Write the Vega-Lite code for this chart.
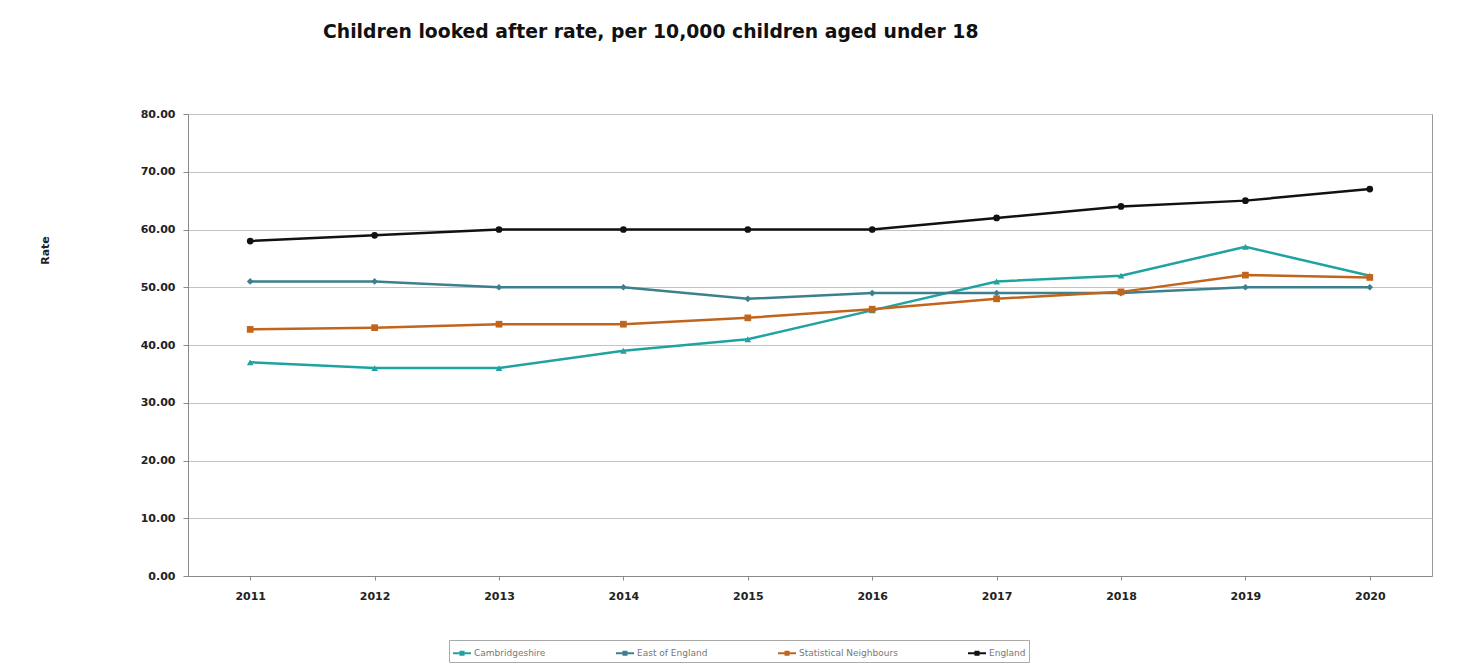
{
  "$schema": "https://vega.github.io/schema/vega-lite/v6.json",
  "autosize": {"type": "none"},
  "width": 1244,
  "height": 462,
  "padding": {"left": 188, "top": 114, "right": 26, "bottom": 90},
  "background": "white",
  "title": {
    "text": "Children looked after rate, per 10,000 children aged under 18",
    "anchor": "start",
    "frame": "group",
    "dx": 135,
    "offset": 66,
    "font": "DejaVu Sans",
    "fontSize": 18.8,
    "fontWeight": "bold",
    "color": "#111"
  },
  "data": {
    "values": [
      {"year": "2011", "series": "Cambridgeshire", "rate": 37},
      {"year": "2012", "series": "Cambridgeshire", "rate": 36},
      {"year": "2013", "series": "Cambridgeshire", "rate": 36},
      {"year": "2014", "series": "Cambridgeshire", "rate": 39},
      {"year": "2015", "series": "Cambridgeshire", "rate": 41},
      {"year": "2016", "series": "Cambridgeshire", "rate": 46},
      {"year": "2017", "series": "Cambridgeshire", "rate": 51},
      {"year": "2018", "series": "Cambridgeshire", "rate": 52},
      {"year": "2019", "series": "Cambridgeshire", "rate": 57},
      {"year": "2020", "series": "Cambridgeshire", "rate": 52},
      {"year": "2011", "series": "East of England", "rate": 51},
      {"year": "2012", "series": "East of England", "rate": 51},
      {"year": "2013", "series": "East of England", "rate": 50},
      {"year": "2014", "series": "East of England", "rate": 50},
      {"year": "2015", "series": "East of England", "rate": 48},
      {"year": "2016", "series": "East of England", "rate": 49},
      {"year": "2017", "series": "East of England", "rate": 49},
      {"year": "2018", "series": "East of England", "rate": 49},
      {"year": "2019", "series": "East of England", "rate": 50},
      {"year": "2020", "series": "East of England", "rate": 50},
      {"year": "2011", "series": "Statistical Neighbours", "rate": 42.7},
      {"year": "2012", "series": "Statistical Neighbours", "rate": 43.0},
      {"year": "2013", "series": "Statistical Neighbours", "rate": 43.6},
      {"year": "2014", "series": "Statistical Neighbours", "rate": 43.6},
      {"year": "2015", "series": "Statistical Neighbours", "rate": 44.7},
      {"year": "2016", "series": "Statistical Neighbours", "rate": 46.2},
      {"year": "2017", "series": "Statistical Neighbours", "rate": 48.0},
      {"year": "2018", "series": "Statistical Neighbours", "rate": 49.2},
      {"year": "2019", "series": "Statistical Neighbours", "rate": 52.1},
      {"year": "2020", "series": "Statistical Neighbours", "rate": 51.7},
      {"year": "2011", "series": "England", "rate": 58},
      {"year": "2012", "series": "England", "rate": 59},
      {"year": "2013", "series": "England", "rate": 60},
      {"year": "2014", "series": "England", "rate": 60},
      {"year": "2015", "series": "England", "rate": 60},
      {"year": "2016", "series": "England", "rate": 60},
      {"year": "2017", "series": "England", "rate": 62},
      {"year": "2018", "series": "England", "rate": 64},
      {"year": "2019", "series": "England", "rate": 65},
      {"year": "2020", "series": "England", "rate": 67}
    ]
  },
  "encoding": {
    "x": {
      "field": "year",
      "type": "ordinal",
      "scale": {"type": "point", "padding": 0.5},
      "axis": {
        "title": null,
        "labelAngle": 0,
        "labelFont": "DejaVu Sans",
        "labelFontSize": 11,
        "labelFontWeight": "bold",
        "labelColor": "#222",
        "labelPadding": 10,
        "domainColor": "#888",
        "tickColor": "#888",
        "tickSize": 4,
        "grid": false
      }
    },
    "y": {
      "field": "rate",
      "type": "quantitative",
      "scale": {"domain": [0, 80], "nice": false},
      "axis": {
        "title": "Rate",
        "titleFont": "DejaVu Sans",
        "titleFontSize": 11,
        "titleFontWeight": "bold",
        "titleColor": "#222",
        "titleX": -138,
        "titleY": 136,
        "titleAlign": "center",
        "titleAngle": -90,
        "values": [0, 10, 20, 30, 40, 50, 60, 70, 80],
        "format": ".2f",
        "labelFont": "DejaVu Sans",
        "labelFontSize": 11,
        "labelFontWeight": "bold",
        "labelColor": "#222",
        "labelPadding": 8,
        "tickSize": 5,
        "tickColor": "#888",
        "domainColor": "#888",
        "gridColor": "#c4c4c4",
        "gridWidth": 1.2
      }
    }
  },
  "layer": [
    {
      "mark": {"type": "line", "strokeWidth": 2.5},
      "encoding": {
        "color": {
          "field": "series",
          "type": "nominal",
          "sort": ["Cambridgeshire", "East of England", "Statistical Neighbours", "England"],
          "scale": {
            "domain": ["Cambridgeshire", "East of England", "Statistical Neighbours", "England"],
            "range": ["#20a3a0", "#3e7f8e", "#c1641c", "#111111"]
          },
          "legend": {
            "title": null,
            "orient": "none",
            "legendX": 261,
            "legendY": 526,
            "direction": "horizontal",
            "strokeColor": "#aaa",
            "padding": 3,
            "labelFont": "DejaVu Sans",
            "labelFontSize": 9,
            "labelColor": "#777",
            "labelOffset": 2,
            "symbolType": "M-1,0H1M-0.17,-0.17H0.17V0.17H-0.17Z",
            "symbolSize": 324,
            "symbolStrokeWidth": 2,
            "columnPadding": 66
          }
        }
      }
    },
    {
      "mark": {"type": "point", "filled": true, "opacity": 1},
      "encoding": {
        "color": {
          "field": "series",
          "type": "nominal",
          "scale": {
            "domain": ["Cambridgeshire", "East of England", "Statistical Neighbours", "England"],
            "range": ["#20a3a0", "#3e7f8e", "#c1641c", "#111111"]
          },
          "legend": null
        },
        "shape": {
          "field": "series",
          "type": "nominal",
          "scale": {
            "domain": ["Cambridgeshire", "East of England", "Statistical Neighbours", "England"],
            "range": ["triangle-up", "diamond", "square", "circle"]
          },
          "legend": null
        },
        "size": {
          "field": "series",
          "type": "nominal",
          "scale": {
            "domain": ["Cambridgeshire", "East of England", "Statistical Neighbours", "England"],
            "range": [45, 45, 110, 70]
          },
          "legend": null
        }
      }
    }
  ],
  "resolve": {"legend": {"color": "independent"}},
  "config": {
    "view": {"stroke": "#999", "strokeWidth": 1}
  }
}
